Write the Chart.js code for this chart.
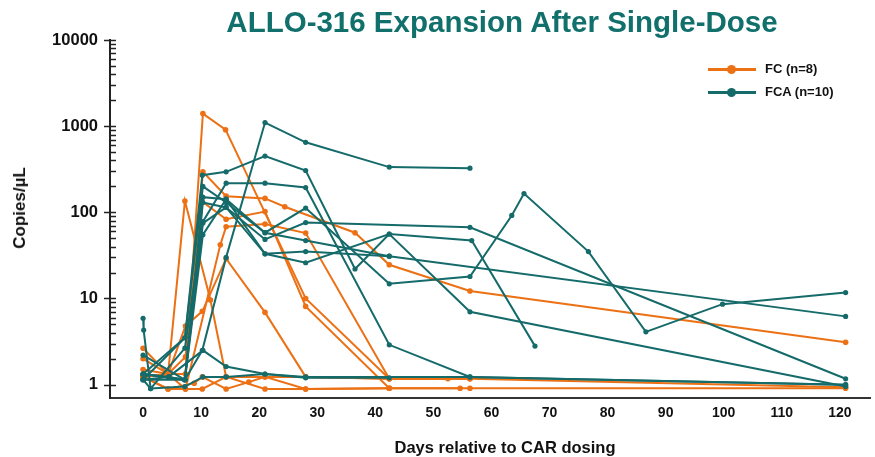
<!DOCTYPE html>
<html>
<head>
<meta charset="utf-8">
<script src="https://cdn.jsdelivr.net/npm/chart.js@4.4.1/dist/chart.umd.min.js"></script>
<style>
  html, body { margin: 0; padding: 0; background: #fff; }
  #wrap { position: relative; width: 875px; height: 457px; font-family: "Liberation Sans", Arial, sans-serif; }
  #chart { position: absolute; left: 0; top: 0; }
  #title { position: absolute; left: 502px; top: 5px; transform: translateX(-50%); white-space: nowrap;
           font-size: 29.5px; font-weight: bold; color: #11706b; }
  #xtitle { position: absolute; left: 505px; top: 438px; transform: translateX(-50%); white-space: nowrap;
            font-size: 16.5px; font-weight: bold; color: #111; }
  #ytitle { position: absolute; left: 20px; top: 208px; transform: translate(-50%, -50%) rotate(-90deg); white-space: nowrap;
            font-size: 17px; font-weight: bold; color: #111; }
  .leg { position: absolute; left: 708px; height: 14px; font-size: 13px; font-weight: bold; color: #111; white-space: nowrap; }
  .leg .ln { position: absolute; left: 0; top: 6px; width: 48px; height: 3px; }
  .leg .dt { position: absolute; left: 19px; top: 3px; width: 9px; height: 9px; border-radius: 50%; }
  .leg .tx { position: absolute; left: 57px; top: -1px; }
</style>
</head>
<body>
<div id="wrap">
  <canvas id="chart" width="875" height="457"></canvas>
  <div id="title">ALLO-316 Expansion After Single-Dose</div>
  <div id="xtitle">Days relative to CAR dosing</div>
  <div id="ytitle">Copies/µL</div>
  <div class="leg" style="top:62px"><span class="ln" style="background:#ec7014"></span><span class="dt" style="background:#ec7014"></span><span class="tx">FC (n=8)</span></div>
  <div class="leg" style="top:85px"><span class="ln" style="background:#156a6a"></span><span class="dt" style="background:#156a6a"></span><span class="tx">FCA (n=10)</span></div>
</div>
<script>
// tick labels
const xTicks = [0, 10, 20, 30, 40, 50, 60, 70, 80, 90, 100, 110, 120];
const yTicks = [1, 10, 100, 1000, 10000];

// FC patients: [day, copies/uL]
const fc1 = [[0, 2.0], [4.3, 1.33], [7.3, 1.33], [10.3, 1400], [14.2, 910], [28, 10], [42.4, 1.17], [56.3, 1.17], [121, 0.93]];
const fc2 = [[0, 1.5], [4.3, 1.33], [7.2, 135], [11.6, 9.6], [14.3, 1.23], [21, 1.23], [28, 1.23], [42.4, 1.17], [52.5, 1.17]];
const fc3 = [[0, 1.23], [4.3, 1.33], [7.3, 1.33], [10.3, 295], [14.3, 154], [21, 145], [24.4, 116], [36.5, 58], [42.4, 24.6], [56.3, 12.2], [121, 3.1]];
const fc4 = [[0, 2.65], [4.3, 1.33], [7.3, 2.1], [10.2, 133], [14.3, 83], [21, 102], [28, 8.1], [42.4, 0.91], [54.6, 0.91]];
const fc5 = [[0, 1.23], [4.3, 0.89], [7.3, 0.89], [13.3, 42], [14.3, 68], [21, 73], [28, 57.5], [42.4, 1.17], [56.3, 1.17]];
const fc6 = [[0, 1.23], [4.3, 1.33], [7.3, 4.8], [10.2, 7.1], [14.3, 29], [21, 6.9], [28, 1.23], [42.4, 1.17], [56.3, 1.17]];
const fc7 = [[0, 1.23], [4.3, 0.89], [8.8, 1.04], [10.2, 1.23], [14.3, 0.89], [18.2, 1.07], [21, 1.23], [28, 0.89], [42.4, 0.91], [56.3, 0.91], [121, 0.91]];
const fc8 = [[0, 1.23], [4.3, 1.33], [7.3, 0.89], [10.2, 0.89], [14.3, 1.23], [21, 0.89], [28, 0.89], [42.4, 0.91]];

// FCA patients
const fca1 = [[0, 1.14], [4.4, 1.23], [7.2, 1.14], [10.2, 2.5], [14.3, 30], [21, 1100], [28, 650], [42.4, 335], [56.3, 325]];
const fca2 = [[0, 1.33], [7.2, 3.5], [10.2, 270], [14.3, 295], [21, 450], [28, 306], [36.5, 22], [42.4, 56], [56.6, 47], [67.5, 2.8]];
const fca3 = [[0, 5.9], [0.1, 4.3], [1.3, 0.9], [7.2, 2.65], [10.3, 78], [14.3, 218], [21, 218], [28, 194], [42.4, 2.9], [56.3, 1.23], [121, 1.0]];
const fca4 = [[0, 2.2], [7.2, 1.14], [10.3, 150], [14.3, 142], [21, 58], [28, 112], [42.4, 14.8], [56.3, 18], [63.5, 92], [65.6, 165], [76.7, 35], [86.6, 4.1], [99.8, 8.6], [121, 11.7]];
const fca5 = [[0, 1.14], [7.2, 1.14], [10.3, 130], [14.3, 114], [21, 48.5], [28, 76], [56.3, 67], [121, 1.17]];
const fca6 = [[0, 1.33], [7.2, 1.14], [10.3, 55], [14.3, 142], [21, 33], [28, 26], [42.4, 56], [56.3, 7], [121, 0.95]];
const fca7 = [[0, 1.14], [7.2, 3.5], [10.3, 200], [14.3, 130], [21, 58], [28, 47], [42.4, 31], [121, 6.2]];
const fca8 = [[0, 1.33], [4.4, 1.23], [10.3, 2.5], [14.3, 1.62], [21, 1.33], [28, 1.23], [56.3, 1.23], [121, 1.0]];
const fca9 = [[0, 1.14], [1.3, 0.9], [7.2, 0.95], [10.3, 1.23], [14.3, 1.23], [21, 1.33], [28, 1.2], [42.4, 1.2]];
const fca10 = [[0, 1.33], [7.2, 1.14], [10.3, 75], [14.3, 114], [21, 33], [28, 35], [42.4, 31]];

const fcSeries = [fc1, fc2, fc3, fc4, fc5, fc6, fc7, fc8];
const fcaSeries = [fca1, fca2, fca3, fca4, fca5, fca6, fca7, fca8, fca9, fca10];

const ORANGE = '#ec7014';
const TEAL = '#156a6a';
const FONT = '"Liberation Sans", Arial, sans-serif';

const mkSet = (pts, color, r) => ({
  data: pts.map(([x, y]) => ({ x, y })),
  borderColor: color,
  backgroundColor: color,
  borderWidth: 2,
  pointRadius: r,
  pointBorderWidth: 0,
  tension: 0,
  clip: false
});

const datasets = []
  .concat(fcaSeries.map(s => mkSet(s, TEAL, 2.6)))
  .concat(fcSeries.map(s => mkSet(s, ORANGE, 2.8)));

// y axis tick marks: majors cross the axis, minors point inward
const axisTicks = {
  id: 'axisTicks',
  afterDraw(chart) {
    const y = chart.scales.y;
    const ctx = chart.ctx;
    const x0 = chart.chartArea.left;
    ctx.save();
    ctx.strokeStyle = '#222';
    ctx.lineWidth = 1.5;
    yTicks.forEach(v => {
      const py = Math.round(y.getPixelForValue(v)) + 0.5;
      ctx.beginPath(); ctx.moveTo(x0 - 6, py); ctx.lineTo(x0 + 6, py); ctx.stroke();
      for (let m = 2; m <= 9; m++) {
        const mv = v * m;
        if (mv > y.max) break;
        const my = Math.round(y.getPixelForValue(mv)) + 0.5;
        ctx.beginPath(); ctx.moveTo(x0, my); ctx.lineTo(x0 + 6, my); ctx.stroke();
      }
    });
    ctx.restore();
  }
};

new Chart(document.getElementById('chart'), {
  type: 'line',
  data: { datasets },
  plugins: [axisTicks],
  options: {
    responsive: false,
    animation: false,
    layout: { padding: { top: 40, right: 5, left: 0, bottom: 0 } },
    plugins: { legend: { display: false }, tooltip: { enabled: false } },
    scales: {
      x: {
        type: 'linear',
        min: -5.7,
        max: 125.2,
        afterBuildTicks: ax => { ax.ticks = xTicks.map(v => ({ value: v })); },
        afterFit: s => { s.height = 59; },
        grid: { display: false, drawTicks: false },
        border: { color: '#333', width: 2 },
        ticks: { padding: 7, color: '#111', font: { family: FONT, size: 14, weight: 'bold' } }
      },
      y: {
        type: 'logarithmic',
        min: 0.73,
        max: 10000,
        afterBuildTicks: ax => { ax.ticks = yTicks.map(v => ({ value: v })); },
        afterFit: s => { s.width = 110; },
        grid: { display: false, drawTicks: false },
        border: { color: '#222', width: 2 },
        ticks: { padding: 12, color: '#111', callback: v => String(v),
                 font: { family: FONT, size: 16.5, weight: 'bold' } }
      }
    }
  }
});
</script>
</body>
</html>
